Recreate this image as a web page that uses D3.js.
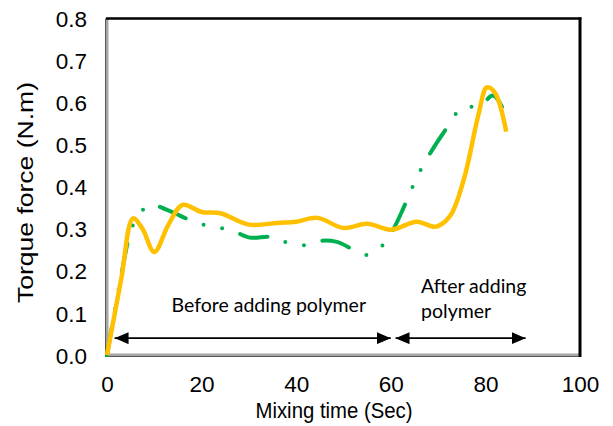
<!DOCTYPE html>
<html>
<head>
<meta charset="utf-8">
<script src="https://cdn.jsdelivr.net/npm/d3@7"></script>
<style>
  html, body { margin: 0; padding: 0; background: #fff; }
  svg { display: block; }
</style>
</head>
<body>
<svg id="chart" width="613" height="426"></svg>
<script>
// Torque vs mixing time, two runs
const goldTime   = [0, 3, 5.5, 7.5, 10, 13, 16, 20, 24, 30, 36, 40, 44.5, 50, 55, 60, 65.5, 69.5, 72.5, 75.5, 78.5, 80.3, 82, 84.4];
const goldTorque = [0, 0.18, 0.325, 0.3, 0.245, 0.31, 0.357, 0.34, 0.337, 0.31, 0.314, 0.317, 0.326, 0.302, 0.312, 0.298, 0.317, 0.305, 0.33, 0.42, 0.57, 0.636, 0.624, 0.531];

const greenTime   = [0, 2.7, 4.9, 6.3, 9.1, 12.7, 19, 22.8, 26.6, 30.2, 34.5, 37, 40.8, 44.6, 48.6, 55, 58.4, 60.5, 62.3, 65.1, 66.8, 68.9, 71, 75.3, 78.6, 81.6, 83.5];
const greenTorque = [0, 0.17, 0.29, 0.326, 0.357, 0.345, 0.314, 0.305, 0.295, 0.279, 0.281, 0.271, 0.26, 0.271, 0.269, 0.238, 0.262, 0.298, 0.34, 0.412, 0.45, 0.49, 0.526, 0.59, 0.59, 0.617, 0.59];

const xTicks = [0, 20, 40, 60, 80, 100];
const yTicks = [0, 0.1, 0.2, 0.3, 0.4, 0.5, 0.6, 0.7, 0.8];

// Phase annotations: [start, end] in seconds, arrow height in N.m
const phaseSpans  = [[1.6, 60], [61, 88.5]];
const phaseArrowY = 0.04;
const phaseLabels = [
  { lines: ["Before adding polymer"], t: 34.2, v: 0.103 },
  { lines: ["After adding", "polymer"], t: 66.4, v: 0.148 }
];

const svg = d3.select("#chart");
const plotLeft = 107, plotRight = 580, plotTop = 18.5, plotBottom = 355;

const x = d3.scaleLinear().domain([0, 100]).range([plotLeft, plotRight]);
const y = d3.scaleLinear().domain([0, 0.8]).range([plotBottom, plotTop]);

const axisFont = "'Liberation Sans', Arial, sans-serif";
const noteFont = "Lato, 'Open Sans', sans-serif";

// Tick labels via d3 axes (no tick lines, no domain)
const xAxis = d3.axisBottom(x).tickValues(xTicks).tickSize(0).tickPadding(0).tickFormat(d3.format("d"));
svg.append("g").attr("transform", "translate(0,392)").call(xAxis)
  .call(g => g.select(".domain").remove())
  .call(g => g.selectAll("text").attr("font-family", axisFont).attr("font-size", 22.5).attr("fill", "#000").attr("dy", 0));

const yAxis = d3.axisLeft(y).tickValues(yTicks).tickSize(0).tickPadding(0).tickFormat(d3.format(".1f"));
svg.append("g").attr("transform", "translate(87,0)").call(yAxis)
  .call(g => g.select(".domain").remove())
  .call(g => g.selectAll("text").attr("font-family", axisFont).attr("font-size", 22.5).attr("fill", "#000").attr("dy", "0.36em"));

// Axis titles
svg.append("text")
  .attr("x", 334).attr("y", 418)
  .attr("text-anchor", "middle")
  .attr("font-family", axisFont).attr("font-size", 22).attr("fill", "#000")
  .attr("textLength", 157).attr("lengthAdjust", "spacingAndGlyphs")
  .text("Mixing time (Sec)");

svg.append("text")
  .attr("transform", "translate(33,192.5) rotate(-90)")
  .attr("text-anchor", "middle")
  .attr("font-family", axisFont).attr("font-size", 22).attr("fill", "#000")
  .attr("textLength", 221).attr("lengthAdjust", "spacingAndGlyphs")
  .text("Torque force (N.m)");

// Plot frame: shaded left/bottom, dark top/right
const frame = svg.append("g");
frame.append("line").attr("x1", plotLeft).attr("x2", plotLeft).attr("y1", plotTop).attr("y2", plotBottom + 1.5)
  .attr("stroke", "#a6a6a6").attr("stroke-width", 3);
frame.append("line").attr("x1", plotLeft - 1.5).attr("x2", plotLeft - 1.5).attr("y1", plotTop).attr("y2", plotBottom + 2)
  .attr("stroke", "#595959").attr("stroke-width", 1);
frame.append("line").attr("x1", plotLeft - 2).attr("x2", plotRight).attr("y1", plotBottom).attr("y2", plotBottom)
  .attr("stroke", "#a6a6a6").attr("stroke-width", 3);
frame.append("line").attr("x1", plotLeft - 2).attr("x2", plotRight).attr("y1", plotBottom + 1.5).attr("y2", plotBottom + 1.5)
  .attr("stroke", "#595959").attr("stroke-width", 1);
frame.append("line").attr("x1", plotLeft - 1).attr("x2", plotRight + 1.5).attr("y1", plotTop).attr("y2", plotTop)
  .attr("stroke", "#000").attr("stroke-width", 2.5);
frame.append("line").attr("x1", plotRight).attr("x2", plotRight).attr("y1", plotTop - 1).attr("y2", plotBottom + 2)
  .attr("stroke", "#000").attr("stroke-width", 3);

// Series
const line = d3.line().x(d => x(d[0])).y(d => y(d[1])).curve(d3.curveCatmullRom.alpha(0.5));

const greenData = d3.zip(greenTime, greenTorque);
const goldData = d3.zip(goldTime, goldTorque);

svg.append("path").datum(greenData)
  .attr("d", line)
  .attr("fill", "none")
  .attr("stroke", "#00b050")
  .attr("stroke-width", 4)
  .attr("stroke-linecap", "round")
  .attr("stroke-dasharray", "28,19,0,19,0,19");

svg.append("path").datum(goldData)
  .attr("d", line)
  .attr("fill", "none")
  .attr("stroke", "#ffc000")
  .attr("stroke-width", 4.5)
  .attr("stroke-linejoin", "round");

// Double-headed arrows
const defs = svg.append("defs");
["start", "end"].forEach(k => {
  defs.append("marker")
    .attr("id", "head-" + k)
    .attr("viewBox", "0 0 14 12")
    .attr("refX", k === "end" ? 14 : 0).attr("refY", 6)
    .attr("markerWidth", 14).attr("markerHeight", 12)
    .attr("markerUnits", "userSpaceOnUse")
    .attr("orient", "auto")
    .append("path")
    .attr("d", k === "end" ? "M0,0 L14,6 L0,12 Z" : "M14,0 L0,6 L14,12 Z")
    .attr("fill", "#000");
});

svg.selectAll(".phase").data(phaseSpans).join("line")
  .attr("class", "phase")
  .attr("x1", d => x(d[0])).attr("x2", d => x(d[1]))
  .attr("y1", y(phaseArrowY)).attr("y2", y(phaseArrowY))
  .attr("stroke", "#000").attr("stroke-width", 1.8)
  .attr("marker-start", "url(#head-start)")
  .attr("marker-end", "url(#head-end)");

phaseLabels.forEach(p => {
  const t = svg.append("text")
    .attr("font-family", noteFont).attr("font-size", 19.5).attr("fill", "#000")
    .attr("text-anchor", p.lines.length > 1 ? "start" : "middle");
  p.lines.forEach((s, i) => {
    t.append("tspan").attr("x", x(p.t)).attr("y", y(p.v) + i * 25).text(s);
  });
});
</script>
</body>
</html>
